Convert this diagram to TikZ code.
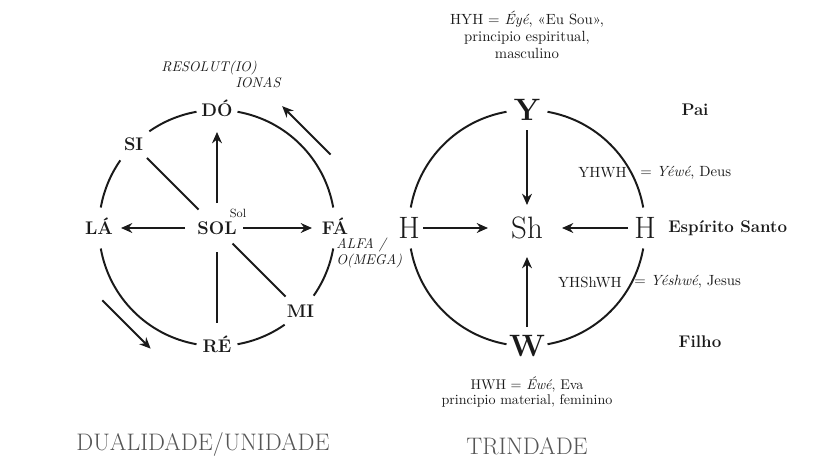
\documentclass[tikz,border=0pt]{standalone}
\usepackage{fontspec}
\usepackage{tikz}
\usetikzlibrary{arrows.meta, positioning, calc}
\definecolor{ink}{HTML}{1A1A1A}
\definecolor{titlegray}{HTML}{555555}
\tikzset{
  note/.style    = {font=\fontsize{13}{15}\selectfont\bfseries, text=ink,
                    inner sep=0pt, text height=9pt, text depth=0pt},
  letter/.style  = {font=\fontsize{22}{26}\selectfont, text=ink,
                    inner sep=0pt, text height=15pt, text depth=0pt},
  tag/.style     = {font=\fontsize{10.5}{12}\selectfont, text=ink,
                    inner sep=0pt, align=center},
  tagit/.style   = {tag, font=\fontsize{10}{11.3}\selectfont\itshape},
  person/.style  = {font=\fontsize{12}{14}\selectfont\bfseries, text=ink,
                    inner sep=0pt},
  caption/.style = {font=\fontsize{17}{20}\selectfont, text=titlegray,
                    inner sep=0pt},
  ring/.style    = {ink, line width=1.4pt},
  bar/.style     = {ink, line width=1.4pt},
  arr/.style     = {-{Stealth[length=8pt, width=7pt]}, ink, line width=1.4pt}
}
\begin{document}
\begin{tikzpicture}
  \useasboundingbox (0,0) rectangle (20.45,11.625);
  \def\rad{2.95}

  % dualidade / unidade
  \node[note] (sol) at (5.425,5.925) {SOL};
  \node[note] (fa) at ([shift={(0:\rad)}]sol)   {FÁ};
  \node[note] (do) at ([shift={(90:\rad)}]sol)  {DÓ};
  \node[note] (si) at ([shift={(135:\rad)}]sol) {SI};
  \node[note] (la) at ([shift={(180:\rad)}]sol) {LÁ};
  \node[note] (re) at ([shift={(270:\rad)}]sol) {RÉ};
  \node[note] (mi) at ([shift={(315:\rad)}]sol) {MI};
  \foreach \s/\e in {0/90, 90/135, 135/180, 180/270, 270/315, 315/360}
    \draw[ring] ([shift={(\s+10:\rad)}]sol.center)
      arc[start angle=\s+10, end angle=\e-10, radius=\rad];
  \draw[arr, shorten <=0.8cm, shorten >=0.55cm]    (sol.center) -- (la.center);
  \draw[arr, shorten <=0.65cm, shorten >=0.575cm]  (sol.center) -- (fa.center);
  \draw[arr, shorten <=0.625cm, shorten >=0.55cm]  (sol.center) -- (do.center);
  \draw[bar, shorten <=0.65cm, shorten >=0.475cm]  (sol.center) -- (si.center);
  \draw[bar, shorten <=0.6cm, shorten >=0.575cm]   (sol.center) -- (re.center);
  \draw[bar, shorten <=0.55cm, shorten >=0.525cm]  (sol.center) -- (mi.center);
  \draw[arr] ($(la)!0.32!(re)!1.22cm!-90:(re)$) -- ($(la)!0.73!(re)!1.22cm!-90:(re)$);
  \draw[arr] ($(fa)!0.33!(do)!1.22cm!-90:(do)$) -- ($(fa)!0.74!(do)!1.22cm!-90:(do)$);
  \node[tagit] (resol) at ([shift={(-0.2,1.05)}]do)  {RESOLUT(IO)};
  \node[tagit] (ionas) at ([shift={(1.025,0.675)}]do) {IONAS};
  \node[tag, font=\fontsize{8.5}{10}\selectfont] (solsup) at ([shift={(0.525,0.375)}]sol) {Sol};
  \node[tagit, anchor=west, align=left] (alfa) at ([shift={(0.025,-0.625)}]fa)
    {ALFA /\\O(MEGA)};
  \node[caption] (dual) at ([shift={(-0.35,-2.475)}]re) {DUALIDADE/UNIDADE};

  % trindade
  \node[letter] (shin) at (13.175,5.925) {Sh};
  \node[letter, font=\fontsize{22}{26}\selectfont\bfseries] (yod)
    at ([shift={(90:\rad)}]shin) {Y};
  \node[letter] (he1) at ([shift={(180:\rad)}]shin) {H};
  \node[letter] (he2) at ([shift={(0:\rad)}]shin)   {H};
  \node[letter, font=\fontsize{22}{26}\selectfont\bfseries] (vav)
    at ([shift={(270:\rad)}]shin) {W};
  \foreach \s in {0, 90, 180, 270}
    \draw[ring] ([shift={(\s+10:\rad)}]shin.center)
      arc[start angle=\s+10, end angle=\s+80, radius=\rad];
  \draw[arr, shorten <=0.5cm, shorten >=0.575cm]   (yod.center) -- (shin.center);
  \draw[arr, shorten <=0.35cm, shorten >=0.975cm]  (he1.center) -- (shin.center);
  \draw[arr, shorten <=0.425cm, shorten >=0.875cm] (he2.center) -- (shin.center);
  \draw[arr, shorten <=0.475cm, shorten >=0.725cm] (vav.center) -- (shin.center);
  \node[tag] (hyh) at ([shift={(0,1.875)}]yod)
    {HYH = \textit{Éyé}, «Eu Sou»,\\principio espiritual,\\masculino};
  \node[person] (pai) at ([shift={(4.2,0)}]yod) {Pai};
  \node[person, anchor=west] (santo) at ([shift={(0.575,0)}]he2) {Espírito Santo};
  \node[person] (filho) at ([shift={(4.325,0.1)}]vav) {Filho};
  \node[tag, anchor=east] (yhwh)  at ([shift={(2.5,1.375)}]shin)  {YHWH};
  \node[tag, anchor=west] (deus)  at ([shift={(2.825,1.375)}]shin) {= \textit{Yéwé}, Deus};
  \node[tag, anchor=east] (yhshwh) at ([shift={(2.375,-1.35)}]shin) {YHShWH};
  \node[tag, anchor=west] (jesus) at ([shift={(2.675,-1.35)}]shin) {= \textit{Yéshwé}, Jesus};
  \node[tag, font=\fontsize{10}{11.3}\selectfont] (hwh) at ([shift={(0,-1.15)}]vav)
    {HWH = \textit{Éwé}, Eva\\principio material, feminino};
  \node[caption] (trin) at ([shift={(0,-2.5)}]vav) {TRINDADE};
\end{tikzpicture}
\end{document}
